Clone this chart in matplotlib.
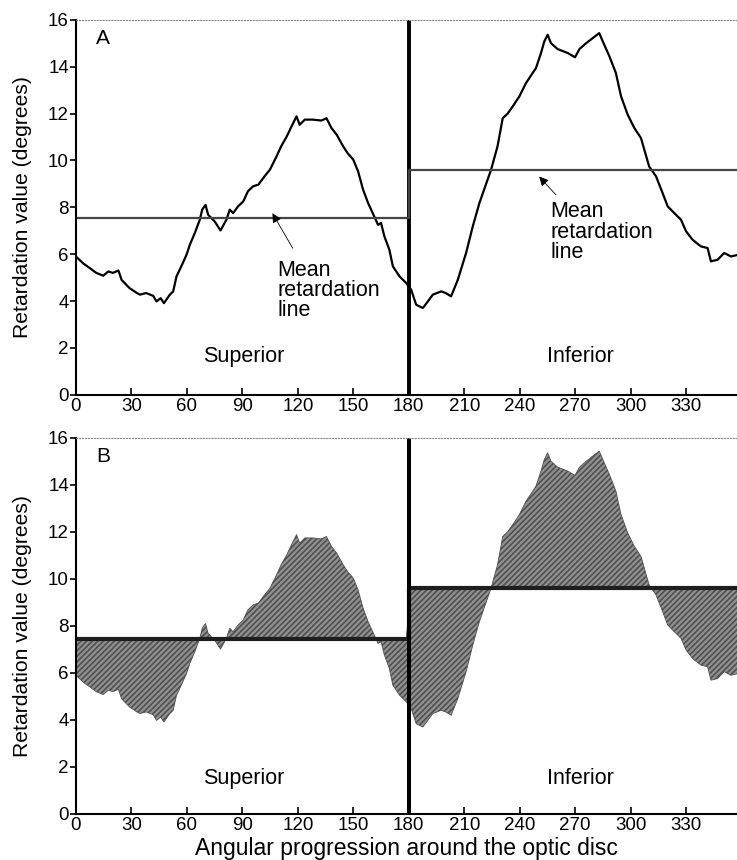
import numpy as np
import matplotlib.pyplot as plt

plt.rcParams['font.family'] = ['Liberation Sans', 'DejaVu Sans']

# retardation trace (degrees vs angle)
angle = [0, 4, 7.6, 11, 14.8, 17.5, 20, 23, 24.7, 29, 33, 34.6, 38, 41.8, 43.6, 45.8,
         47.6, 50.8, 52.6, 54.4, 57, 59.8, 61.6, 64.3, 67, 68.3, 70.1, 71.5, 75, 78.2,
         81.4, 83.2, 85, 87.7, 90.5, 93, 95.9, 98.6, 102, 104.9, 108.5, 111, 114, 116.6,
         119.3, 121, 123.8, 128, 132.8, 135.5, 138.2, 141, 144.5, 147, 150, 152.6, 155.3,
         158, 160.5, 163.4, 165, 166.8, 169.5, 171.4, 175, 178.6, 181.3, 184, 187.6, 190.3,
         193, 197.5, 200, 202.9, 206.5, 211, 214.6, 218.2, 224.5, 228, 230.8, 233.5, 236.2,
         239.8, 243.4, 247, 248.8, 251.5, 253.3, 255.1, 256.9, 260.5, 266, 269.9, 272.3,
         275.9, 279.5, 283, 284.9, 288.5, 292, 294.8, 298.4, 302, 305.6, 307.4, 310, 313.7,
         317.3, 320, 323.6, 327.2, 330, 333.5, 338, 341.6, 343.4, 347, 350.6, 354.2, 358]
retard = [5.9, 5.6, 5.4, 5.2, 5.08, 5.26, 5.2, 5.3, 4.9, 4.55, 4.34, 4.27, 4.34, 4.22, 3.98, 4.12,
          3.91, 4.27, 4.41, 5.05, 5.48, 5.97, 6.4, 6.9, 7.47, 7.9, 8.1, 7.68, 7.4, 7.01,
          7.47, 7.9, 7.75, 8.04, 8.25, 8.68, 8.9, 8.96, 9.32, 9.6, 10.17, 10.6, 11.02, 11.45,
          11.88, 11.52, 11.74, 11.74, 11.7, 11.8, 11.38, 11.1, 10.6, 10.3, 10.03, 9.53, 8.75,
          8.18, 7.75, 7.25, 7.33, 6.76, 6.19, 5.48, 5.05, 4.77, 4.48, 3.84, 3.7, 3.98,
          4.27, 4.41, 4.34, 4.2, 4.9, 6.05, 7.18, 8.18, 9.6, 10.6, 11.8, 12.0, 12.3,
          12.73, 13.3, 13.73, 13.94, 14.58, 15.08, 15.36, 15.0, 14.75, 14.58, 14.4, 14.75,
          15.0, 15.22, 15.43, 15.08, 14.44, 13.73, 12.73, 11.95, 11.38, 10.95, 10.45, 9.74, 9.32,
          8.6, 8.04, 7.75, 7.47, 6.97, 6.61, 6.33, 6.26, 5.69, 5.76, 6.05, 5.9, 5.97]

# mean retardation per half (superior / inferior)
mean_x = [0, 180, 180, 358]
mean_a = [7.55, 7.55, 9.6, 9.6]
mean_b = [7.45, 7.45, 9.6, 9.6]

xticks = list(range(0, 360, 30))
yticks = list(range(0, 17, 2))

angle = np.array(angle)
retard = np.array(retard)

plt.rcParams['hatch.linewidth'] = 1.2

fig = plt.figure(figsize=(7.37, 8.6), dpi=100)
ax1 = fig.add_axes([0.103, 0.541, 0.897, 0.436])
ax2 = fig.add_axes([0.103, 0.0535, 0.897, 0.4375])


def style_axes(ax):
    ax.set_xlim(0, 357.5)
    ax.set_ylim(0, 16)
    ax.set_xticks(xticks)
    ax.set_yticks(yticks)
    ax.tick_params(axis='x', direction='in', length=5, width=1.2, labelsize=13.5, pad=2)
    ax.tick_params(axis='y', direction='out', length=4, width=1.2, labelsize=13.5, pad=1)
    ax.spines['right'].set_visible(False)
    ax.spines['top'].set_linestyle(':')
    ax.spines['top'].set_color('#888888')
    ax.spines['top'].set_linewidth(0.8)
    ax.spines['left'].set_linewidth(1.5)
    ax.spines['bottom'].set_linewidth(1.5)
    ax.set_ylabel('Retardation value (degrees)', fontsize=15.2)
    ax.yaxis.set_label_coords(-0.066, 0.5)
    ax.axvline(180, color='black', lw=2.8)


# panel A
style_axes(ax1)
ax1.plot(angle, retard, color='black', lw=1.6)
ax1.plot(mean_x, mean_a, color='#444444', lw=1.6)
ax1.text(11, 15.2, 'A', fontsize=15, va='center')
ax1.text(109, 5.75, 'Mean\nretardation\nline', fontsize=15.5, va='top', linespacing=0.95)
ax1.annotate('', xy=(105.5, 7.85), xytext=(118, 6.15),
             arrowprops=dict(arrowstyle='-|>', color='black', lw=0.6, mutation_scale=14))
ax1.text(256.5, 8.25, 'Mean\nretardation\nline', fontsize=15.5, va='top', linespacing=0.95)
ax1.annotate('', xy=(249.5, 9.4), xytext=(260.5, 8.45),
             arrowprops=dict(arrowstyle='-|>', color='black', lw=0.6, mutation_scale=14))
ax1.text(91, 1.65, 'Superior', fontsize=15.5, ha='center', va='center')
ax1.text(273, 1.65, 'Inferior', fontsize=15.5, ha='center', va='center')

# panel B
style_axes(ax2)
mean_b_curve = np.where(angle < 180, mean_b[0], mean_b[-1])
ax2.fill_between(angle, retard, mean_b_curve, facecolor='#909090', edgecolor='#505050',
                 hatch='//////', linewidth=0.6)
ax2.plot(mean_x, mean_b, color='#1e1e1e', lw=3)
ax2.axvline(180, color='black', lw=2.8)
ax2.text(11, 15.2, 'B', fontsize=15, va='center')
ax2.text(91, 1.5, 'Superior', fontsize=15.5, ha='center', va='center')
ax2.text(273, 1.5, 'Inferior', fontsize=15.5, ha='center', va='center')
ax2.set_xlabel('Angular progression around the optic disc', fontsize=16.5, labelpad=0)
ax2.xaxis.set_label_coords(0.5, -0.06)

fig.savefig('out.png', dpi=100)
